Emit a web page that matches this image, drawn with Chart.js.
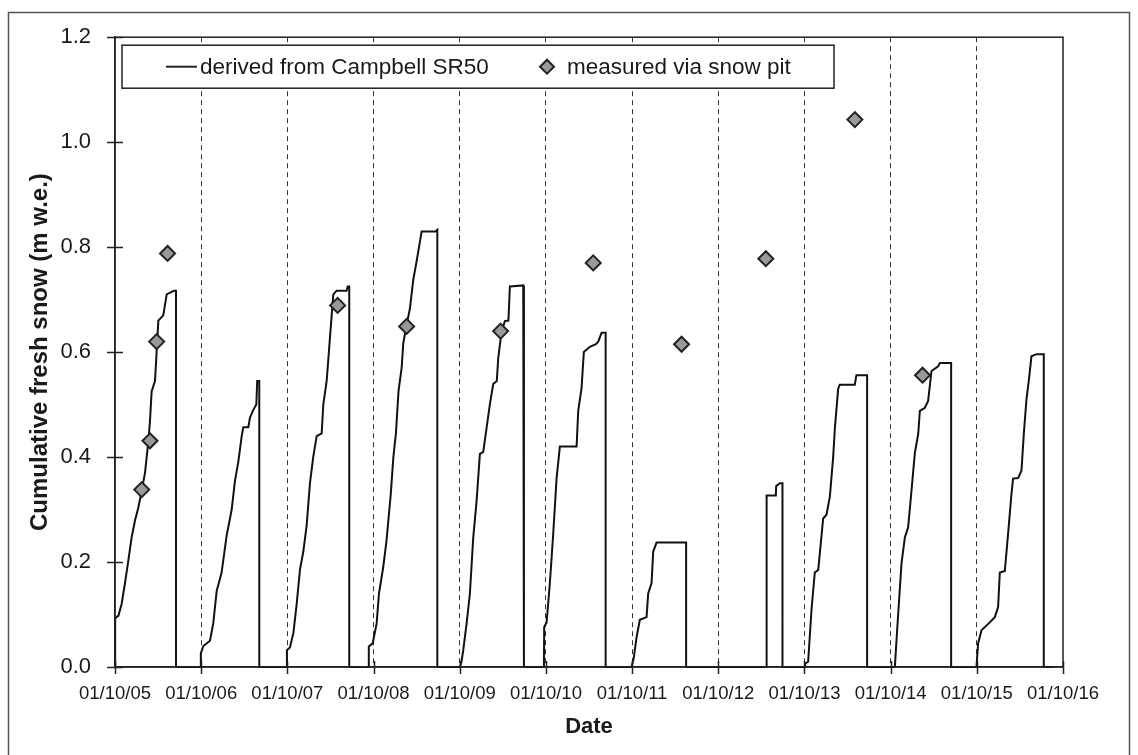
<!DOCTYPE html>
<html>
<head>
<meta charset="utf-8">
<script src="https://cdn.jsdelivr.net/npm/chart.js@4.4.1/dist/chart.umd.min.js"></script>
<style>
  html, body { margin: 0; padding: 0; background: #fff; }
  #wrap { width: 1138px; height: 755px; }
</style>
</head>
<body>
<div id="wrap"><canvas id="snowChart" width="1138" height="755"></canvas></div>
<script>
// x = years since 01/10/05
const yearTicks = ["01/10/05", "01/10/06", "01/10/07", "01/10/08", "01/10/09", "01/10/10",
                   "01/10/11", "01/10/12", "01/10/13", "01/10/14", "01/10/15", "01/10/16"];
const yTicks = [0, 0.2, 0.4, 0.6, 0.8, 1.0, 1.2];

// SR50 derived cumulative fresh snow (m w.e.)
const sr50Years = [
  0, 0.002, 0.04, 0.077, 0.116, 0.155, 0.193, 0.232, 0.271, 0.31, 0.348, 0.387, 0.406, 0.425, 0.464, 0.483, 0.503, 0.56, 0.6, 0.685, 0.708, 0.708,
  0.994, 0.996, 1.025, 1.102, 1.14, 1.18, 1.237, 1.295, 1.354, 1.392, 1.43, 1.47, 1.489, 1.547, 1.566, 1.605, 1.64, 1.65, 1.674, 1.674,
  1.99, 1.995, 2.03, 2.07, 2.108, 2.146, 2.185, 2.224, 2.262, 2.3, 2.34, 2.398, 2.417, 2.456, 2.494, 2.533, 2.572, 2.688, 2.7, 2.718, 2.718,
  2.94, 2.945, 2.99, 3.036, 3.063, 3.112, 3.15, 3.2, 3.23, 3.26, 3.29, 3.326, 3.345, 3.384, 3.422, 3.461, 3.5, 3.558, 3.72, 3.74, 3.74,
  4.003, 4.02, 4.041, 4.08, 4.118, 4.157, 4.196, 4.234, 4.273, 4.312, 4.35, 4.389, 4.43, 4.447, 4.486, 4.524, 4.565, 4.582, 4.737, 4.745, 4.745,
  4.977, 4.98, 5.008, 5.046, 5.085, 5.124, 5.162, 5.356, 5.375, 5.414, 5.44, 5.51, 5.58, 5.607, 5.646, 5.693, 5.693,
  5.994, 6.02, 6.052, 6.09, 6.168, 6.187, 6.226, 6.245, 6.284, 6.627, 6.627,
  7.56, 7.561, 7.668, 7.672, 7.715, 7.745, 7.745,
  8.005, 8.01, 8.043, 8.082, 8.12, 8.16, 8.217, 8.256, 8.295, 8.333, 8.353, 8.391, 8.41, 8.584, 8.603, 8.727, 8.727,
  9.049, 9.068, 9.095, 9.126, 9.165, 9.203, 9.242, 9.281, 9.32, 9.339, 9.397, 9.435, 9.474, 9.552, 9.571, 9.702, 9.702,
  9.996, 10.015, 10.054, 10.15, 10.209, 10.247, 10.267, 10.325, 10.363, 10.402, 10.421, 10.479, 10.518, 10.545, 10.576, 10.603, 10.634, 10.692, 10.777, 10.777, 10.885
];
const sr50Snow = [
  0, 0.093, 0.098, 0.12, 0.16, 0.203, 0.247, 0.279, 0.304, 0.336, 0.37, 0.43, 0.469, 0.525, 0.545, 0.6, 0.66, 0.67, 0.71, 0.717, 0.717, 0,
  0, 0.026, 0.04, 0.05, 0.083, 0.145, 0.18, 0.25, 0.3, 0.355, 0.39, 0.44, 0.457, 0.457, 0.475, 0.49, 0.5, 0.545, 0.545, 0,
  0, 0.032, 0.037, 0.065, 0.12, 0.185, 0.22, 0.27, 0.35, 0.4, 0.44, 0.445, 0.5, 0.545, 0.627, 0.71, 0.717, 0.717, 0.725, 0.725, 0,
  0, 0.039, 0.045, 0.083, 0.14, 0.19, 0.24, 0.33, 0.4, 0.446, 0.526, 0.57, 0.617, 0.652, 0.683, 0.738, 0.773, 0.83, 0.83, 0.833, 0,
  0, 0.01, 0.032, 0.083, 0.14, 0.247, 0.317, 0.406, 0.41, 0.456, 0.501, 0.539, 0.545, 0.589, 0.64, 0.659, 0.66, 0.725, 0.727, 0.727, 0,
  0, 0.076, 0.085, 0.16, 0.254, 0.36, 0.42, 0.42, 0.488, 0.532, 0.6, 0.61, 0.615, 0.62, 0.637, 0.637, 0,
  0, 0.018, 0.057, 0.09, 0.095, 0.14, 0.16, 0.22, 0.237, 0.237, 0,
  0, 0.327, 0.327, 0.345, 0.35, 0.35, 0,
  0, 0.007, 0.01, 0.11, 0.18, 0.185, 0.283, 0.29, 0.325, 0.4, 0.455, 0.53, 0.538, 0.538, 0.556, 0.556, 0,
  0, 0.051, 0.12, 0.197, 0.247, 0.266, 0.336, 0.408, 0.444, 0.488, 0.494, 0.507, 0.564, 0.573, 0.579, 0.579, 0,
  0, 0.045, 0.07, 0.085, 0.095, 0.114, 0.18, 0.183, 0.254, 0.33, 0.359, 0.36, 0.374, 0.444, 0.51, 0.545, 0.592, 0.596, 0.596, 0, 0
];

// snow pit measurements
const pitYears = [0.31, 0.406, 0.483, 0.61, 2.583, 3.384, 4.474, 5.549, 6.574, 7.552, 8.585, 9.37];
const pitSnow = [0.338, 0.431, 0.62, 0.788, 0.689, 0.649, 0.64, 0.77, 0.615, 0.778, 1.043, 0.556];

const labelLine = "derived from Campbell SR50";
const labelPit = "measured via snow pit";

const txt = "#1a1a1a";
const font = "'Liberation Sans', Arial, sans-serif";

// frame, crossing ticks, legend box
const extras = {
    id: "extras",
    beforeDraw(chart) {
        const ctx = chart.ctx;
        ctx.save();
        ctx.fillStyle = "#fff";
        ctx.fillRect(0, 0, chart.width, chart.height);
        ctx.strokeStyle = "#555";
        ctx.lineWidth = 1.5;
        ctx.strokeRect(8.5, 12.5, 1121, 800);
        ctx.restore();
    },
    afterDraw(chart) {
        const { ctx, chartArea: a, scales: { x, y } } = chart;
        ctx.save();
        ctx.strokeStyle = "#222";
        ctx.lineWidth = 1.5;
        ctx.strokeRect(a.left, a.top, a.right - a.left, a.bottom - a.top);

        ctx.beginPath();
        yTicks.forEach((v) => {
            const py = Math.round(y.getPixelForValue(v)) + 0.5;
            ctx.moveTo(a.left - 8, py);
            ctx.lineTo(a.left + 8, py);
        });
        yearTicks.forEach((_, i) => {
            const px = Math.round(x.getPixelForValue(i)) + 0.5;
            ctx.moveTo(px, a.bottom - 6);
            ctx.lineTo(px, a.bottom + 7);
        });
        ctx.stroke();

        // legend
        const lx = a.left + 7, ly = a.top + 8, lw = 712, lh = 43;
        const cy = ly + lh / 2;
        ctx.fillStyle = "#fff";
        ctx.fillRect(lx, ly, lw, lh);
        ctx.lineWidth = 1.5;
        ctx.strokeStyle = "#222";
        ctx.strokeRect(lx, ly, lw, lh);

        ctx.beginPath();
        ctx.lineWidth = 2;
        ctx.moveTo(lx + 44, cy);
        ctx.lineTo(lx + 75, cy);
        ctx.stroke();

        ctx.fillStyle = txt;
        ctx.font = "22.5px " + font;
        ctx.textBaseline = "middle";
        ctx.fillText(labelLine, lx + 78, cy + 1);

        const dx = lx + 425;
        ctx.beginPath();
        ctx.moveTo(dx, cy - 7);
        ctx.lineTo(dx + 7, cy);
        ctx.lineTo(dx, cy + 7);
        ctx.lineTo(dx - 7, cy);
        ctx.closePath();
        ctx.fillStyle = "#999";
        ctx.fill();
        ctx.lineWidth = 2;
        ctx.stroke();

        ctx.fillStyle = txt;
        ctx.fillText(labelPit, lx + 445, cy + 1);
        ctx.restore();
    },
};

new Chart(document.getElementById("snowChart"), {
    type: "scatter",
    data: {
        datasets: [
            {
                label: labelPit,
                data: pitYears.map((t, i) => ({ x: t, y: pitSnow[i] })),
                pointStyle: "rectRot",
                pointRadius: 7.5,
                pointBackgroundColor: "#999",
                pointBorderColor: "#222",
                pointBorderWidth: 2,
                order: 1,
            },
            {
                label: labelLine,
                data: sr50Years.map((t, i) => ({ x: t, y: sr50Snow[i] })),
                showLine: true,
                borderColor: "#111",
                borderWidth: 2,
                pointRadius: 0,
                tension: 0,
                fill: false,
                clip: 3,
                order: 2,
            },
        ],
    },
    options: {
        responsive: false,
        animation: false,
        events: [],
        layout: { padding: { top: 35, right: 75, bottom: 0, left: 0 } },
        plugins: {
            legend: { display: false },
            tooltip: { enabled: false },
        },
        scales: {
            x: {
                type: "linear",
                min: 0,
                max: 11,
                afterFit: (s) => { s.height = 88; },
                afterBuildTicks: (s) => { s.ticks = yearTicks.map((_, i) => ({ value: i })); },
                ticks: {
                    autoSkip: false,
                    maxRotation: 0,
                    padding: 16,
                    color: txt,
                    font: { family: font, size: 18.5 },
                    callback: (v) => yearTicks[v],
                },
                grid: {
                    drawTicks: false,
                    lineWidth: 1,
                    color: (c) => (c.index > 0 && c.index < 11 ? "#333" : "rgba(0,0,0,0)"),
                },
                border: { color: "#222", width: 1.5, dash: [5, 4] },
                title: {
                    display: true,
                    text: "Date",
                    color: txt,
                    font: { family: font, size: 22, weight: "bold" },
                    padding: { top: 0, bottom: 15 },
                },
            },
            y: {
                min: 0,
                max: 1.2,
                afterFit: (s) => { s.width = 115; },
                afterBuildTicks: (s) => { s.ticks = yTicks.map((v) => ({ value: v })); },
                ticks: {
                    padding: 24,
                    color: txt,
                    font: { family: font, size: 22 },
                    callback: (v) => v.toFixed(1),
                },
                grid: { display: false, drawTicks: false },
                border: { color: "#222", width: 1.5 },
                title: {
                    display: true,
                    text: "Cumulative fresh snow (m w.e.)",
                    color: txt,
                    font: { family: font, size: 24, weight: "bold" },
                    padding: { top: 26, bottom: 0 },
                },
            },
        },
    },
    plugins: [extras],
});
</script>
</body>
</html>
